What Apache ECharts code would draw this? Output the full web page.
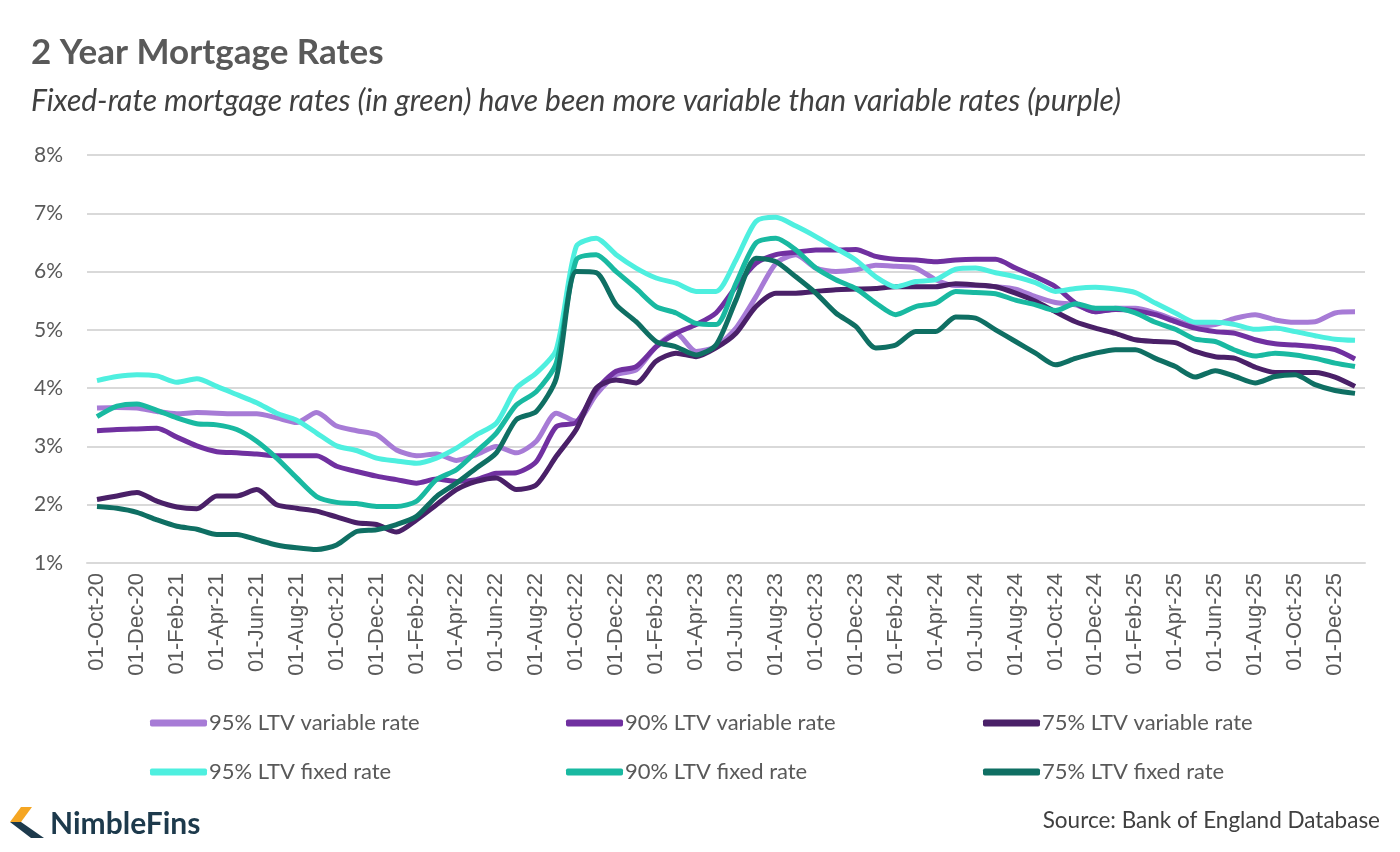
<!DOCTYPE html>
<html>
  <head>
    <meta charset="utf-8" />
    <script src="https://cdn.jsdelivr.net/npm/echarts@6/dist/echarts.min.js"></script>
  </head>
  <body>
    <style>
      html,
      body,
      #main {
        width: 100%;
        height: 100%;
        margin: 0;
        background: #fff;
      }
    </style>
    <div id="main"></div>
    <script>
      var chart = echarts.init(document.getElementById('main'));

      // monthly categories, Oct-20 .. Jan-26
      var months = [
        '01-Oct-20', '01-Nov-20', '01-Dec-20',
        '01-Jan-21', '01-Feb-21', '01-Mar-21', '01-Apr-21', '01-May-21', '01-Jun-21',
        '01-Jul-21', '01-Aug-21', '01-Sep-21', '01-Oct-21', '01-Nov-21', '01-Dec-21',
        '01-Jan-22', '01-Feb-22', '01-Mar-22', '01-Apr-22', '01-May-22', '01-Jun-22',
        '01-Jul-22', '01-Aug-22', '01-Sep-22', '01-Oct-22', '01-Nov-22', '01-Dec-22',
        '01-Jan-23', '01-Feb-23', '01-Mar-23', '01-Apr-23', '01-May-23', '01-Jun-23',
        '01-Jul-23', '01-Aug-23', '01-Sep-23', '01-Oct-23', '01-Nov-23', '01-Dec-23',
        '01-Jan-24', '01-Feb-24', '01-Mar-24', '01-Apr-24', '01-May-24', '01-Jun-24',
        '01-Jul-24', '01-Aug-24', '01-Sep-24', '01-Oct-24', '01-Nov-24', '01-Dec-24',
        '01-Jan-25', '01-Feb-25', '01-Mar-25', '01-Apr-25', '01-May-25', '01-Jun-25',
        '01-Jul-25', '01-Aug-25', '01-Sep-25', '01-Oct-25', '01-Nov-25', '01-Dec-25',
        '01-Jan-26'
      ];

      var var95 = [
        3.66, 3.67, 3.66, 3.60, 3.56, 3.58, 3.57, 3.56, 3.56, 3.49, 3.41, 3.58,
        3.35, 3.27, 3.20, 2.94, 2.84, 2.87, 2.76, 2.86, 3.00, 2.89, 3.09, 3.57,
        3.43, 3.89, 4.23, 4.31, 4.71, 4.94, 4.63, 4.71, 5.03, 5.57, 6.14, 6.29,
        6.06, 6.00, 6.03, 6.11, 6.09, 6.06, 5.86, 5.76, 5.76, 5.74, 5.70, 5.57,
        5.47, 5.43, 5.31, 5.37, 5.37, 5.29, 5.17, 5.06, 5.09, 5.20, 5.26, 5.17,
        5.13, 5.14, 5.29, 5.31
      ];
      var var90 = [
        3.27, 3.29, 3.30, 3.31, 3.16, 3.01, 2.91, 2.89, 2.87, 2.84, 2.84, 2.84,
        2.66, 2.57, 2.49, 2.43, 2.37, 2.44, 2.40, 2.43, 2.54, 2.55, 2.74, 3.34,
        3.41, 3.97, 4.29, 4.37, 4.71, 4.94, 5.09, 5.29, 5.74, 6.14, 6.29, 6.33,
        6.37, 6.37, 6.38, 6.26, 6.21, 6.20, 6.17, 6.20, 6.21, 6.21, 6.06, 5.91,
        5.74, 5.46, 5.31, 5.35, 5.33, 5.26, 5.14, 5.03, 4.97, 4.94, 4.83, 4.76,
        4.74, 4.71, 4.66, 4.50
      ];
      var var75 = [
        2.09, 2.15, 2.21, 2.06, 1.96, 1.93, 2.15, 2.15, 2.26, 2.00, 1.94, 1.89,
        1.79, 1.69, 1.66, 1.53, 1.74, 2.00, 2.26, 2.40, 2.46, 2.26, 2.34, 2.83,
        3.29, 4.00, 4.14, 4.09, 4.46, 4.60, 4.54, 4.69, 4.94, 5.40, 5.63, 5.63,
        5.66, 5.69, 5.70, 5.71, 5.74, 5.74, 5.74, 5.79, 5.77, 5.74, 5.63, 5.49,
        5.31, 5.14, 5.03, 4.94, 4.83, 4.80, 4.78, 4.63, 4.54, 4.51, 4.36, 4.27,
        4.27, 4.27, 4.19, 4.03
      ];
      var fix95 = [
        4.13, 4.20, 4.23, 4.21, 4.10, 4.16, 4.03, 3.89, 3.75, 3.57, 3.45, 3.23,
        3.01, 2.93, 2.80, 2.75, 2.71, 2.80, 2.97, 3.20, 3.40, 4.00, 4.26, 4.66,
        6.43, 6.57, 6.29, 6.06, 5.89, 5.80, 5.66, 5.66, 6.20, 6.86, 6.93, 6.78,
        6.60, 6.40, 6.20, 5.91, 5.74, 5.83, 5.86, 6.04, 6.06, 5.98, 5.91, 5.81,
        5.66, 5.71, 5.73, 5.70, 5.64, 5.46, 5.29, 5.13, 5.13, 5.09, 5.01, 5.03,
        4.97, 4.90, 4.84, 4.82
      ];
      var fix90 = [
        3.51, 3.69, 3.73, 3.62, 3.49, 3.39, 3.37, 3.29, 3.09, 2.80, 2.46, 2.14,
        2.04, 2.02, 1.97, 1.97, 2.06, 2.43, 2.60, 2.91, 3.23, 3.71, 3.94, 4.43,
        6.20, 6.29, 6.00, 5.71, 5.40, 5.29, 5.11, 5.09, 5.80, 6.49, 6.57, 6.37,
        6.06, 5.86, 5.71, 5.46, 5.26, 5.40, 5.46, 5.66, 5.64, 5.62, 5.51, 5.43,
        5.33, 5.45, 5.37, 5.37, 5.29, 5.13, 5.01, 4.84, 4.80, 4.65, 4.55, 4.60,
        4.57, 4.51, 4.43, 4.37
      ];
      var fix75 = [
        1.97, 1.94, 1.87, 1.74, 1.63, 1.58, 1.49, 1.49, 1.40, 1.31, 1.26, 1.23,
        1.31, 1.54, 1.57, 1.66, 1.80, 2.14, 2.37, 2.63, 2.89, 3.46, 3.60, 4.17,
        6.00, 5.98, 5.43, 5.14, 4.80, 4.71, 4.57, 4.74, 5.51, 6.23, 6.17, 5.91,
        5.63, 5.29, 5.06, 4.69, 4.74, 4.97, 4.97, 5.22, 5.20, 5.00, 4.80, 4.60,
        4.40, 4.51, 4.60, 4.66, 4.66, 4.51, 4.37, 4.19, 4.30, 4.20, 4.09, 4.20,
        4.23, 4.06, 3.96, 3.91
      ];

      var names = [
        '95% LTV variable rate', '90% LTV variable rate', '75% LTV variable rate',
        '95% LTV fixed rate', '90% LTV fixed rate', '75% LTV fixed rate'
      ];
      var colors = ['#a77bd6', '#7030a0', '#4a2068', '#4eefdf', '#19b9a1', '#0f6f63'];
      var values = [var95, var90, var75, fix95, fix90, fix75];

      var legendPos = [
        [150, 712], [566, 712], [983, 712],
        [150, 761], [566, 761], [983, 761]
      ];

      var series = names.map(function (n, i) {
        return {
          name: n,
          type: 'line',
          data: values[i],
          symbol: 'none',
          smooth: 0.25,
          color: colors[i],
          lineStyle: { width: 5, color: colors[i] }
        };
      });

      var legends = names.map(function (n, i) {
        return {
          data: [n],
          left: legendPos[i][0],
          top: legendPos[i][1],
          padding: 0,
          icon: 'roundRect',
          itemWidth: 57,
          itemHeight: 7,
          textStyle: { fontFamily: 'Lato', fontSize: 22, color: '#595959', padding: [0, 0, 0, -3] }
        };
      });

      var option = {
        backgroundColor: '#fff',
        animation: false,
        title: {
          text: '2 Year Mortgage Rates',
          subtext: 'Fixed-rate mortgage rates (in green) have been more variable than variable rates (purple)',
          left: 31,
          top: 35,
          padding: 0,
          itemGap: 16,
          textStyle: { fontFamily: 'Lato', fontWeight: 'bold', fontSize: 35, color: '#595959' },
          subtextStyle: { fontFamily: 'Lato', fontStyle: 'italic', fontSize: 30, color: '#404040' }
        },
        legend: legends,
        grid: { left: 87, right: 35, top: 155, bottom: 289 },
        xAxis: {
          type: 'category',
          data: months,
          boundaryGap: true,
          axisLine: { lineStyle: { color: '#d9d9d9', width: 2 } },
          axisTick: { interval: 1, length: 6, lineStyle: { color: '#d9d9d9', width: 2 } },
          axisLabel: {
            interval: 1,
            rotate: 90,
            margin: 10,
            fontFamily: 'Liberation Sans',
            fontSize: 22,
            color: '#595959'
          }
        },
        yAxis: {
          type: 'value',
          min: 1,
          max: 8,
          interval: 1,
          axisLine: { show: false },
          axisTick: { show: false },
          axisLabel: {
            formatter: '{value}%',
            margin: 24,
            fontFamily: 'Lato',
            fontSize: 21,
            color: '#595959'
          },
          splitLine: { lineStyle: { color: '#d9d9d9', width: 2 } }
        },
        graphic: [
          {
            type: 'polygon',
            shape: { points: [[21, 807], [32, 807], [21, 822], [10, 822]] },
            style: { fill: '#f5a623' }
          },
          {
            type: 'polygon',
            shape: { points: [[10, 822], [21, 822], [44, 838], [31, 838]] },
            style: { fill: '#1d3a4c' }
          },
          {
            type: 'text',
            left: 50,
            top: 809,
            style: {
              text: 'NimbleFins',
              fontFamily: 'Lato',
              fontWeight: 'bold',
              fontSize: 30,
              fill: '#1d3a4c'
            }
          },
          {
            type: 'text',
            right: 20,
            top: 809,
            style: {
              text: 'Source: Bank of England Database',
              fontFamily: 'Lato',
              fontSize: 22.5,
              fill: '#404040'
            }
          }
        ],
        series: series
      };

      chart.setOption(option);

      window.onresize = function () {
        chart.resize();
      };
    </script>
  </body>
</html>
